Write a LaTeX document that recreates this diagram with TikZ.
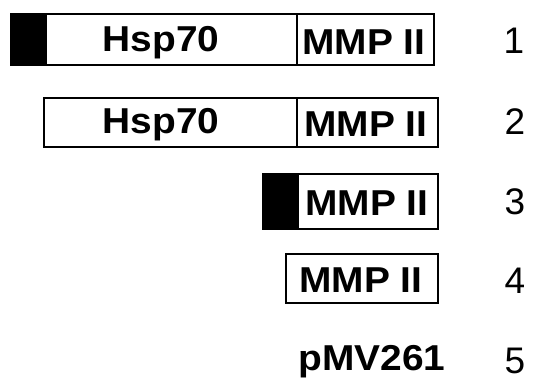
\documentclass[tikz,border=0pt]{standalone}
\usepackage{fontspec}
\setmainfont{Liberation Sans}
\newcommand{\widetxt}[1]{\scalebox{1.08}[1]{#1}}
\begin{document}
\begin{tikzpicture}[x=1pt,y=-1pt,
  seg/.style={draw=black,line width=1.8pt,fill=white,inner sep=0pt,anchor=north west},
  blk/.style={draw=black,line width=1.8pt,fill=black,inner sep=0pt,anchor=north west},
  lbl/.style={font=\fontsize{36}{36}\selectfont\bfseries,inner sep=0pt},
  num/.style={font=\fontsize{37}{37}\selectfont,inner sep=0pt}]
\useasboundingbox (0,0) rectangle (547,391);
% row 1
\node[blk,minimum width=35pt,minimum height=51pt] (b1) at (10,13) {};
\node[seg,minimum width=251pt,minimum height=51pt] (h1) at (45,13) {};
\node[seg,minimum width=137pt,minimum height=51pt] (m1) at (296,13) {};
\node[lbl] (th1) at (161,43) {\widetxt{Hsp70}};
\node[lbl] (tm1) at (364,42) {\widetxt{MMP II}};
\node[num] (n1) at (514,41) {1};
% row 2
\node[seg,minimum width=253pt,minimum height=49pt] (h2) at (43,97) {};
\node[seg,minimum width=141pt,minimum height=49pt] (m2) at (296,97) {};
\node[lbl] (th2) at (161,125) {\widetxt{Hsp70}};
\node[lbl] (tm2) at (366,124) {\widetxt{MMP II}};
\node[num] (n2) at (515,122) {2};
% row 3
\node[blk,minimum width=35pt,minimum height=55pt] (b3) at (262,173) {};
\node[seg,minimum width=140pt,minimum height=55pt] (m3) at (297,173) {};
\node[lbl] (tm3) at (367,203) {\widetxt{MMP II}};
\node[num] (n3) at (515,202) {3};
% row 4
\node[seg,minimum width=152pt,minimum height=49pt] (m4) at (285,253) {};
\node[lbl] (tm4) at (361,280) {\widetxt{MMP II}};
\node[num] (n4) at (515,281) {4};
% row 5
\node[lbl] (p5) at (372,362) {\widetxt{pMV261}};
\node[num] (n5) at (515,361) {5};
\end{tikzpicture}
\end{document}
